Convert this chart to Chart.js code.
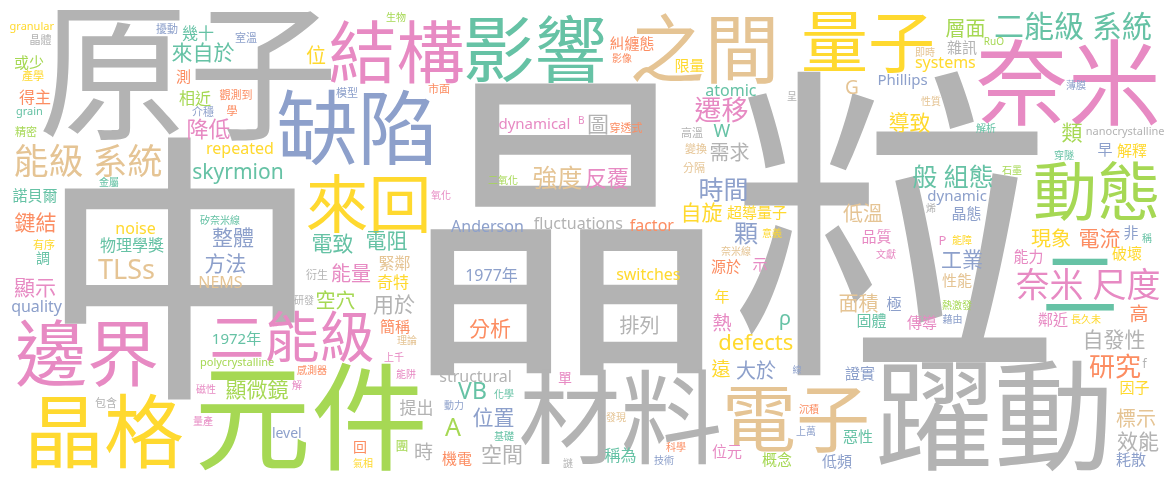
<!DOCTYPE html>
<html>
<head>
<meta charset="utf-8">
<script src="https://cdn.jsdelivr.net/npm/chart.js@4.4.1/dist/chart.umd.min.js"></script>
<style>
  html, body { margin: 0; padding: 0; background: #fff; overflow: hidden; }
  #wrap { width: 1175px; height: 482px; position: relative; }
</style>
</head>
<body>
<div id="wrap"><canvas id="cloud"></canvas></div>
<script>
// Set2 palette: 0 green, 1 orange, 2 blue, 3 pink, 4 lime, 5 yellow, 6 tan, 7 gray
const PALETTE = ['#66c2a5', '#fc8d62', '#8da0cb', '#e78ac3', '#a6d854', '#ffd92f', '#e5c494', '#b3b3b3'];

// words of the cloud, in placement order (largest first)
const words = [
  '晶粒', '中', '原子', '躍動', '元件', '材料', '奈米', '晶格', '缺陷', '電子',
  '之間', '邊界', '影響', '結構', '量子', '動態', '來回', '二', '二能級', '能級 系統',
  '奈米 尺度', '二能級 系統', '研究', '遷移', '般 組態', '強度', '反覆', 'defects', 'TLSs', 'skyrmion',
  'VB', 'A', '自發性', '顆', '時間', '圖', '分析', '排列', '位置', '降低',
  '來自於', '鍵結', '自旋', '空間', '大於', '顯示', '方法', '整體', '顯微鏡', '電致',
  '電阻', '用於', '能量', '空穴', '導致', '類', '工業', '現象', '電流', '低溫',
  '面積', '需求', '位', '層面', '熱', '遠', '高', '標示', '效能', '提出',
  'ρ', '時', 'W', 'G', 'repeated', '物理學獎', '奇特', '緊鄰', '稱為', '諾貝爾',
  '得主', '幾十', '測', '相近', 'noise', '或少', '1972年', '1977年', 'switches', 'quality',
  'NEMS', '簡稱', '源於', '示', '年', '單', 'structural', '機電', '位元', '概念',
  '惡性', '低頻', '耗散', '因子', '證實', '固體', '傳導', '鄰近', '品質', '性能',
  '能力', '破壞', '極', '早', '解釋', '非', '晶態', 'dynamic', 'Phillips', 'systems',
  '雜訊', '糾纏態', '限量', 'atomic', 'dynamical', 'Anderson', 'fluctuations', 'factor', '超導量子', '調',
  'granular', 'grain', '晶體', '產學', '精密', '有序', '金屬', '擾動', '室溫', '觀測到',
  '模型', '介穩', '學', '矽奈米線', '生物', '影像', '市面', 'B', '穿透式', '高溫',
  '變換', '分隔', '二氧化', '氧化', '意義', '即時', 'RuO', '呈', '性質', '薄膜',
  '解析', 'nanocrystalline', '穿隧', '石墨', '烯', 'P', '能障', '稱', '文獻', '熱激發',
  '藉由', '長久未', 'f', '線', '沉積', '上萬', '奈米線', '化學', '動力', '基礎',
  '發現', '科學', '技術', '謎', '衍生', '研發', '理論', '上千', '感測器', '能阱',
  '磁性', '解', 'polycrystalline', '包含', '量產', 'level', '回', '團', '氣相'
];

// word centre on the horizontal axis (0..1175)
const wordX = [
  738, 180, 187, 993, 311, 620, 1068, 107, 355, 797,
  703, 87, 535, 397, 868, 1096, 367, 1080, 293, 88,
  1088, 1073, 1115, 721, 953, 558, 607, 756, 126, 238,
  472, 453, 1115, 746, 723, 598, 490, 639, 493, 209,
  203, 35, 703, 502, 756, 35, 225, 233, 257, 333,
  387, 394, 351, 336, 910, 1072, 962, 1051, 1100, 863,
  859, 730, 316, 965, 722, 721, 1139, 1136, 1138, 416,
  785, 424, 722, 852, 240, 132, 393, 395, 620, 35,
  35, 198, 183, 195, 136, 29, 237, 492, 648, 37,
  221, 395, 726, 760, 722, 565, 475, 457, 727, 777,
  858, 837, 1131, 1135, 860, 872, 922, 1053, 877, 957,
  1028, 1127, 894, 1105, 1132, 1131, 967, 957, 903, 945,
  962, 632, 690, 731, 534, 487, 578, 652, 757, 43,
  32, 29, 41, 33, 26, 44, 109, 167, 246, 236,
  347, 203, 232, 220, 396, 622, 439, 581, 626, 692,
  696, 694, 503, 441, 772, 925, 994, 792, 931, 1076,
  986, 1125, 1064, 1012, 931, 943, 962, 1147, 886, 957,
  952, 1086, 1145, 797, 809, 806, 736, 504, 454, 504,
  616, 676, 664, 568, 317, 304, 407, 394, 312, 406,
  206, 297, 237, 106, 203, 287, 360, 402, 363
];

// word centre on the vertical axis (0 top .. 482 bottom)
const wordY = [
  225, 270, 75, 416, 416, 417, 82, 431, 127, 420,
  48, 353, 48, 52, 42, 191, 203, 284, 336, 160,
  284, 26, 366, 109, 176, 177, 178, 342, 269, 173,
  390, 427, 339, 233, 189, 124, 328, 325, 417, 129,
  52, 222, 212, 454, 370, 288, 263, 237, 389, 243,
  241, 304, 273, 300, 122, 132, 259, 238, 238, 213,
  303, 152, 55, 28, 322, 368, 313, 418, 441, 408,
  322, 451, 130, 87, 150, 245, 282, 263, 455, 195,
  97, 33, 77, 98, 228, 62, 338, 275, 274, 308,
  282, 326, 267, 265, 296, 378, 376, 459, 452, 459,
  436, 461, 460, 387, 373, 320, 322, 320, 236, 280,
  257, 253, 303, 150, 150, 233, 213, 197, 81, 64,
  48, 43, 65, 90, 125, 226, 223, 225, 212, 258,
  27, 112, 40, 75, 131, 244, 182, 28, 37, 94,
  92, 111, 111, 220, 17, 58, 88, 120, 127, 132,
  148, 168, 180, 195, 232, 52, 41, 96, 101, 85,
  128, 132, 155, 170, 208, 240, 240, 238, 254, 305,
  319, 319, 363, 369, 409, 430, 251, 394, 405, 435,
  417, 447, 460, 463, 274, 300, 340, 357, 370, 374,
  389, 385, 363, 402, 421, 432, 447, 446, 462
];

// word weight, drawn as font size in px
const weights = [
  330, 285, 150, 120, 117, 102, 93, 80, 81, 74,
  75, 72, 72, 68, 67, 64, 63, 76, 55, 35,
  34, 30, 26, 27, 25, 25, 22, 22, 27, 21,
  23, 25, 21, 24, 25, 22, 21, 20, 21, 22,
  21, 21, 21, 21, 20, 21, 21, 21, 21, 21,
  21, 21, 20, 20, 21, 21, 21, 20, 21, 20,
  20, 20, 20, 20, 19, 19, 19, 20, 21, 17,
  20, 19, 18, 19, 16, 16, 16, 16, 16, 15,
  16, 16, 15, 16, 16, 15, 15, 16, 16, 16,
  16, 15, 15, 15, 15, 14, 16, 15, 15, 15,
  15, 15, 15, 15, 15, 15, 15, 15, 15, 15,
  15, 15, 15, 15, 15, 15, 15, 15, 15, 16,
  15, 15, 15, 16, 15, 16, 16, 16, 15, 14,
  11, 11, 11, 11, 11, 11, 10, 11, 11, 11,
  11, 11, 11, 10, 10, 10, 11, 10, 11, 11,
  11, 11, 10, 10, 10, 10, 10, 10, 10, 10,
  10, 11, 10, 10, 10, 13, 10, 10, 10, 10,
  10, 10, 12, 9, 10, 10, 10, 10, 10, 10,
  10, 10, 10, 10, 11, 10, 10, 10, 10, 10,
  10, 10, 11, 11, 10, 14, 14, 13, 10
];

// palette index per word
const colorIdx = [
  7, 7, 7, 7, 4, 7, 3, 5, 2, 6,
  6, 3, 0, 3, 5, 4, 5, 0, 3, 6,
  3, 0, 1, 3, 0, 6, 3, 5, 6, 0,
  0, 4, 7, 2, 2, 7, 1, 7, 2, 3,
  0, 1, 5, 7, 2, 3, 2, 2, 4, 0,
  0, 7, 3, 4, 5, 4, 2, 5, 1, 6,
  6, 7, 5, 4, 3, 5, 1, 6, 7, 7,
  0, 7, 0, 6, 5, 0, 5, 6, 0, 0,
  1, 0, 1, 4, 5, 4, 0, 2, 5, 2,
  6, 1, 1, 3, 5, 3, 7, 1, 3, 4,
  0, 2, 2, 5, 2, 0, 3, 3, 3, 6,
  3, 5, 2, 2, 5, 2, 2, 2, 2, 5,
  7, 1, 5, 0, 3, 2, 7, 1, 5, 0,
  5, 0, 7, 5, 4, 5, 0, 2, 2, 1,
  2, 2, 1, 0, 4, 1, 1, 3, 1, 7,
  6, 6, 4, 3, 5, 6, 4, 7, 6, 2,
  0, 7, 0, 4, 7, 3, 5, 0, 3, 4,
  2, 5, 7, 2, 1, 2, 6, 0, 2, 0,
  6, 1, 2, 7, 7, 7, 6, 3, 1, 3,
  3, 3, 4, 7, 3, 2, 1, 4, 5
];

const FONT_STACK = '"Noto Sans", "Noto Sans CJK TC", sans-serif';

// Draws each word centred (by its ink box) on its scatter point
const wordLabels = {
  id: 'wordLabels',
  afterDatasetsDraw(chart) {
    const ctx = chart.ctx;
    const meta = chart.getDatasetMeta(0);
    ctx.save();
    ctx.textAlign = 'left';
    ctx.textBaseline = 'alphabetic';
    meta.data.forEach((pt, i) => {
      ctx.font = `${weights[i]}px ${FONT_STACK}`;
      ctx.fillStyle = PALETTE[colorIdx[i]];
      const m = ctx.measureText(words[i]);
      const dx = (m.actualBoundingBoxLeft - m.actualBoundingBoxRight) / 2;
      const dy = (m.actualBoundingBoxAscent - m.actualBoundingBoxDescent) / 2;
      ctx.fillText(words[i], pt.x + dx, pt.y + dy);
    });
    ctx.restore();
  }
};

new Chart(document.getElementById('cloud'), {
  type: 'scatter',
  data: {
    datasets: [{
      data: words.map((w, i) => ({ x: wordX[i], y: wordY[i] })),
      pointRadius: 0,
      pointHoverRadius: 0
    }]
  },
  options: {
    responsive: true,
    maintainAspectRatio: false,
    animation: false,
    layout: { padding: 0 },
    plugins: {
      legend: { display: false },
      tooltip: { enabled: false }
    },
    scales: {
      x: { type: 'linear', min: 0, max: 1175, display: false },
      y: { type: 'linear', min: 0, max: 482, reverse: true, display: false }
    }
  },
  plugins: [wordLabels]
});
</script>
</body>
</html>
